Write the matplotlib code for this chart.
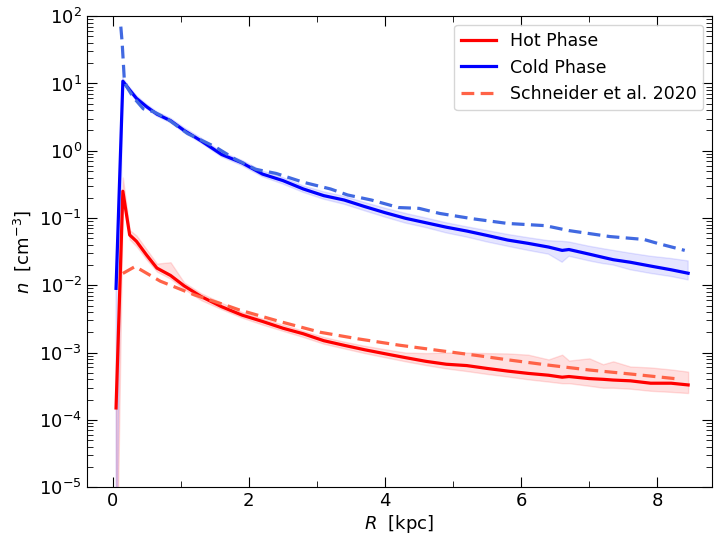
import numpy as np
import matplotlib
matplotlib.use("Agg")
import matplotlib.pyplot as plt

# radial bins of the simulation profiles [kpc]
r = [0.05, 0.15, 0.25, 0.35, 0.5, 0.65, 0.85, 1.05, 1.3, 1.6, 1.9, 2.2, 2.5, 2.8,
     3.1, 3.4, 3.7, 4.0, 4.3, 4.6, 4.9, 5.2, 5.5, 5.8, 6.1, 6.4, 6.6, 6.7, 7.0,
     7.2, 7.35, 7.6, 7.9, 8.2, 8.45]

# hot phase: median and spread
n_hot = [1.5e-4, 0.25, 0.056, 0.045, 0.028, 0.018, 0.014, 0.0098, 0.0068, 0.0048,
         0.0036, 0.0029, 0.0023, 0.0019, 0.0015, 0.00128, 0.0011, 0.00096, 0.00084,
         0.00074, 0.00067, 0.00064, 0.00058, 0.00053, 0.00049, 0.00046, 0.00043,
         0.00044, 0.00041, 0.0004, 0.00039, 0.00038, 0.00035, 0.00035, 0.00033]
n_hot_lo = [1e-7, 0.2, 0.048, 0.038, 0.024, 0.016, 0.0125, 0.0088, 0.006, 0.0044,
            0.0033, 0.0026, 0.0021, 0.0017, 0.00135, 0.00115, 0.00098, 0.00085,
            0.00074, 0.00065, 0.00058, 0.00053, 0.00048, 0.00044, 0.0004, 0.00037,
            0.00035, 0.00035, 0.00032, 0.0003, 0.0003, 0.00029, 0.00027, 0.00026,
            0.00025]
n_hot_hi = [3e-4, 0.4, 0.066, 0.055, 0.034, 0.021, 0.022, 0.011, 0.0076, 0.0055,
            0.004, 0.0032, 0.0026, 0.0021, 0.0017, 0.00145, 0.00126, 0.00112, 0.001,
            0.00098, 0.001, 0.001, 0.00098, 0.00097, 0.00093, 0.00079, 0.00093,
            0.00076, 0.00082, 0.00067, 0.00074, 0.00062, 0.0006, 0.00056, 0.00052]

# cold phase: median and spread
n_cold = [0.009, 10.8, 8.0, 6.0, 4.5, 3.5, 2.8, 2.0, 1.4, 0.88, 0.66, 0.45, 0.36,
          0.27, 0.215, 0.185, 0.148, 0.12, 0.099, 0.085, 0.073, 0.064, 0.055, 0.047,
          0.042, 0.037, 0.033, 0.034, 0.029, 0.026, 0.024, 0.022, 0.0193, 0.017,
          0.0151]
n_cold_lo = [1e-7, 9.8, 7.4, 5.5, 4.2, 3.25, 2.6, 1.85, 1.3, 0.81, 0.6, 0.41, 0.32,
             0.24, 0.19, 0.16, 0.128, 0.103, 0.084, 0.072, 0.06, 0.052, 0.044, 0.038,
             0.033, 0.029, 0.022, 0.027, 0.023, 0.021, 0.02, 0.017, 0.015, 0.0135,
             0.012]
n_cold_hi = [0.011, 12.0, 8.8, 6.6, 4.9, 3.8, 3.05, 2.2, 1.55, 0.96, 0.72, 0.5, 0.4,
             0.3, 0.245, 0.21, 0.17, 0.14, 0.117, 0.1, 0.085, 0.074, 0.065, 0.057,
             0.051, 0.046, 0.045, 0.044, 0.038, 0.035, 0.033, 0.03, 0.027, 0.025,
             0.023]

# Schneider et al. 2020 profiles
r_s_cold = [0.12, 0.14, 0.17, 0.2, 0.3, 0.45, 0.6, 0.8, 1.1, 1.5, 1.8, 2.1, 2.4, 2.8,
            3.2, 3.45, 3.8, 4.2, 4.5, 4.8, 5.3, 5.8, 6.35, 6.7, 7.3, 7.8, 8.0, 8.4]
n_s_cold = [70, 40, 12, 9.2, 6.3, 4.2, 3.8, 3.0, 1.8, 1.15, 0.75, 0.53, 0.46, 0.34,
            0.27, 0.22, 0.185, 0.143, 0.139, 0.117, 0.097, 0.083, 0.077, 0.065,
            0.053, 0.048, 0.042, 0.033]
r_s_hot = [0.15, 0.33, 0.7, 1.2, 1.7, 1.86, 2.45, 3.05, 3.6, 4.2, 4.8, 5.4, 5.8, 6.4,
           7.0, 7.6, 8.25]
n_s_hot = [0.015, 0.019, 0.0115, 0.0072, 0.0049, 0.0043, 0.0029, 0.002, 0.0016,
           0.00129, 0.00107, 0.00089, 0.00078, 0.00065, 0.00055, 0.00048, 0.00041]

fig = plt.figure(figsize=(7.17, 5.4), dpi=100)
ax = fig.add_axes([0.121, 0.098, 0.872, 0.872])

ax.fill_between(r, n_hot_lo, n_hot_hi, color="red", alpha=0.12, lw=1)
ax.fill_between(r, n_cold_lo, n_cold_hi, color="blue", alpha=0.1, lw=1)
ax.plot(r, n_hot, color="red", lw=2.3, label="Hot Phase")
ax.plot(r, n_cold, color="blue", lw=2.3, label="Cold Phase")
ax.plot(r_s_hot, n_s_hot, color="tomato", lw=2.3, ls="--", dashes=(4, 2),
        label="Schneider et al. 2020")
ax.plot(r_s_cold, n_s_cold, color="royalblue", lw=2.3, ls="--", dashes=(4, 2))

ax.set_yscale("log")
ax.set_ylim(1e-5, 1e2)
ax.set_xlim(-0.38, 8.8)
ax.set_xticks([0, 2, 4, 6, 8])
ax.set_xticks([1, 3, 5, 7], minor=True)
ax.tick_params(which="both", direction="in", top=True, right=True, labelsize=13)
ax.tick_params(which="major", length=7)
ax.tick_params(which="minor", length=4)
ax.set_xlabel("$R$  [kpc]", fontsize=13, labelpad=2)
ax.set_ylabel("$n$  [cm$^{-3}$]", fontsize=13)
ax.legend(loc="upper right", fontsize=12.5)

fig.savefig("out.png", dpi=100)
